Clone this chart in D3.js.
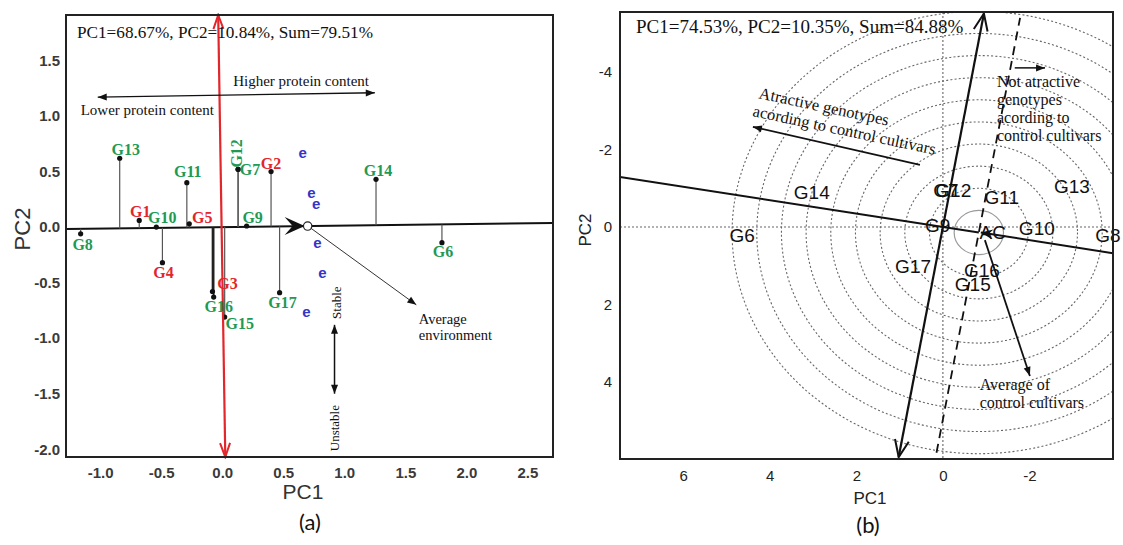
<!DOCTYPE html>
<html><head><meta charset="utf-8">
<script src="https://cdn.jsdelivr.net/npm/d3@7"></script>
<style>body{margin:0;background:#fff}</style>
</head><body>
<svg id="c" width="1123" height="545"></svg>
<script>
// ---------- Panel (a) data ----------
const genotypesA = ["G1","G2","G3","G4","G5","G6","G7","G8","G9","G10","G11","G12","G13","G14","G15","G16","G17"];
const pc1A = [-0.68, 0.40, -0.08, -0.49, -0.27, 1.80, 0.13, -1.16, 0.20, -0.54, -0.29, 0.13, -0.84, 1.26, 0.02, -0.07, 0.47];
const pc2A = [0.06, 0.50, -0.58, -0.32, 0.03, -0.14, 0.52, -0.06, 0.01, 0.00, 0.40, 0.52, 0.62, 0.43, -0.81, -0.63, -0.59];
const typeA = ["control","control","control","control","control","test","test","test","test","test","test","test","test","test","test","test","test"];
const envPc1A = [0.66, 0.73, 0.77, 0.78, 0.82, 0.69];
const envPc2A = [0.67, 0.31, 0.21, -0.14, -0.41, -0.76];
const meanEnvA = [0.70, 0.0095];
const xTicksA = [-1.0, -0.5, 0.0, 0.5, 1.0, 1.5, 2.0, 2.5];
const yTicksA = [-2.0, -1.5, -1.0, -0.5, 0.0, 0.5, 1.0, 1.5];
const headerA = "PC1=68.67%, PC2=10.84%, Sum=79.51%";

// ---------- Panel (b) data ----------
const genotypesB = ["G6","G14","G12","G7","G11","G13","G10","G8","G9","G17","G16","G15"];
const pc1B = [4.64, 3.03, -0.24, -0.07, -1.36, -2.98, -2.17, -3.81, 0.12, 0.69, -0.90, -0.69];
const pc2B = [0.21, -0.90, -0.93, -0.93, -0.75, -1.03, 0.03, 0.23, -0.03, 1.03, 1.11, 1.49];
const acB = [-0.83, 0.143];
const ringStepB = 0.57;
const ringCountB = 10;
const xTicksB = [6, 4, 2, 0, -2];
const yTicksB = [-4, -2, 0, 2, 4];
const headerB = "PC1=74.53%, PC2=10.35%, Sum=84.88%";

// ---------- layout (label offsets in px) ----------
const labelOffA = {
  G1:[1,-9], G2:[0,-8], G3:[15,-8], G4:[1,10], G5:[13,-6], G6:[1,9], G7:[12,0], G8:[2,11],
  G9:[6,-9], G10:[6,-10], G11:[1,-11], G12:[-2,-16], G13:[6,-9], G14:[2,-9], G15:[15,6], G16:[5,9], G17:[3,10]
};
const colorA = {control:"#e3262b", test:"#1f9a55"};

const svg = d3.select("#c");
const defs = svg.append("defs");
function marker(id, path, w, h, refX, refY, fill, stroke, sw){
  defs.append("marker").attr("id", id).attr("markerUnits","userSpaceOnUse")
    .attr("markerWidth", w+4).attr("markerHeight", h+4).attr("viewBox", `-2 -2 ${w+4} ${h+4}`)
    .attr("refX", refX).attr("refY", refY).attr("orient","auto-start-reverse")
    .append("path").attr("d", path).attr("fill", fill).attr("stroke", stroke).attr("stroke-width", sw||0);
}
marker("arrS", "M0,0 L9,3.5 L0,7 Z", 9, 7, 9, 3.5, "#111", "none");
marker("arrChevRed", "M0,0 L14,5 L0,10", 14, 10, 14, 5, "none", "#e3262b", 2);
marker("arrChevB", "M0,0 L17,7 L0,14", 17, 14, 17, 7, "none", "#111", 2);
marker("arrAC", "M0,0 L12,5 L0,10 L4,5 Z", 12, 10, 12, 5, "#111", "none");

// ================= Panel (a) =================
const xA = d3.scaleLinear().domain([-1.28, 2.71]).range([66, 553]);
const yA = d3.scaleLinear().domain([-2.07, 1.91]).range([457, 15]);
const gA = svg.append("g");

const axA_x = gA.append("g").attr("transform", `translate(0,${yA.range()[0]})`)
  .call(d3.axisBottom(xA).tickValues(xTicksA).tickSize(0).tickPadding(10).tickFormat(d => d.toFixed(1)));
const axA_y = gA.append("g").attr("transform", `translate(${xA.range()[0]},0)`)
  .call(d3.axisLeft(yA).tickValues(yTicksA).tickSize(0).tickPadding(6).tickFormat(d => d.toFixed(1)));
[axA_x, axA_y].forEach(a => {
  a.select(".domain").remove();
  a.selectAll("text").attr("font-family","Liberation Sans, Arial").attr("font-size", 15).attr("font-weight","bold").attr("fill","#3a3a3a");
});
gA.append("text").attr("x", 303).attr("y", 499).attr("text-anchor","middle")
  .attr("font-family","Liberation Sans, Arial").attr("font-size", 21).attr("fill","#333").text("PC1");
gA.append("text").attr("transform","translate(30,229) rotate(-90)").attr("text-anchor","middle")
  .attr("font-family","Liberation Sans, Arial").attr("font-size", 22).attr("fill","#333").text("PC2");
gA.append("text").attr("x", 310).attr("y", 530).attr("text-anchor","middle")
  .attr("font-family","Lato, Open Sans, sans-serif").attr("font-size", 22).attr("fill","#111").text("(a)");

// average environment axis
const slopeA = meanEnvA[1] / meanEnvA[0];
gA.append("line").attr("x1", xA(xA.domain()[0])).attr("y1", yA(slopeA * xA.domain()[0]))
  .attr("x2", xA(xA.domain()[1])).attr("y2", yA(slopeA * xA.domain()[1]))
  .attr("stroke","#111").attr("stroke-width", 2);

// projection lines
genotypesA.forEach((g, i) => {
  gA.append("line").attr("x1", xA(pc1A[i])).attr("y1", yA(pc2A[i]))
    .attr("x2", xA(pc1A[i])).attr("y2", yA(slopeA * pc1A[i]))
    .attr("stroke", (g==="G3"||g==="G16") ? "#222" : "#555").attr("stroke-width", (g==="G3"||g==="G16") ? 1.6 : 1.2);
});
// genotype points
gA.selectAll("circle.g").data(genotypesA).enter().append("circle")
  .attr("cx", (d,i) => xA(pc1A[i])).attr("cy", (d,i) => yA(pc2A[i])).attr("r", 2.6).attr("fill","#111");

// mean env arrowhead + circle
const mx = xA(meanEnvA[0]), my = yA(meanEnvA[1]);
gA.append("path").attr("d", `M${mx-3},${my} L${mx-23},${my-9} L${mx-15},${my} L${mx-23},${my+9} Z`).attr("fill","#111");
gA.append("circle").attr("cx", mx).attr("cy", my).attr("r", 4.2).attr("fill","#fff").attr("stroke","#222").attr("stroke-width",1.2);

// average environment pointer
gA.append("line").attr("x1", mx+3).attr("y1", my+2).attr("x2", xA(1.59)).attr("y2", yA(-0.70))
  .attr("stroke","#333").attr("stroke-width", 1).attr("marker-end","url(#arrS)");

// red vertical axis
gA.append("line").attr("x1", xA(-0.033)).attr("y1", yA(1.91)).attr("x2", xA(0.025)).attr("y2", yA(-2.07))
  .attr("stroke","#e3262b").attr("stroke-width", 2.2)
  .attr("marker-start","url(#arrChevRed)").attr("marker-end","url(#arrChevRed)");

// environment markers
gA.selectAll("text.e").data(envPc1A).enter().append("text")
  .attr("x", (d,i) => xA(d)).attr("y", (d,i) => yA(envPc2A[i])).attr("text-anchor","middle").attr("dominant-baseline","central")
  .attr("font-family","Liberation Sans, Arial").attr("font-weight","bold").attr("font-size", 15).attr("fill","#3434c8").text("e");

// genotype labels
genotypesA.forEach((g, i) => {
  const o = labelOffA[g];
  const t = gA.append("text").attr("text-anchor","middle").attr("dominant-baseline","central")
    .attr("font-family","Liberation Serif, Times New Roman").attr("font-weight","bold").attr("font-size", 16)
    .attr("fill", colorA[typeA[i]]).text(g);
  const px = xA(pc1A[i]) + o[0], py = yA(pc2A[i]) + o[1];
  if (g === "G12") t.attr("transform", `translate(${px},${py}) rotate(-90)`);
  else t.attr("x", px).attr("y", py);
});

// annotations
const serif = "Liberation Serif, Times New Roman";
gA.append("text").attr("x", xA(-1.19)).attr("y", yA(1.70)).attr("font-family", serif).attr("font-size", 17.2).attr("fill","#111").text(headerA);
gA.append("text").attr("x", xA(0.09)).attr("y", yA(1.27)).attr("font-family", serif).attr("font-size", 15).attr("fill","#111").text("Higher protein content");
gA.append("text").attr("x", xA(-1.16)).attr("y", yA(1.01)).attr("font-family", serif).attr("font-size", 15).attr("fill","#111").text("Lower protein content");
gA.append("line").attr("x1", xA(-1.02)).attr("y1", yA(1.17)).attr("x2", xA(1.25)).attr("y2", yA(1.21))
  .attr("stroke","#111").attr("stroke-width", 1.3).attr("marker-start","url(#arrS)").attr("marker-end","url(#arrS)");
gA.append("text").attr("x", xA(1.61)).attr("y", yA(-0.87)).attr("font-family", serif).attr("font-size", 14.5).attr("fill","#111").text("Average");
gA.append("text").attr("x", xA(1.61)).attr("y", yA(-1.02)).attr("font-family", serif).attr("font-size", 14.5).attr("fill","#111").text("environment");
gA.append("line").attr("x1", xA(0.92)).attr("y1", yA(-0.88)).attr("x2", xA(0.92)).attr("y2", yA(-1.50))
  .attr("stroke","#111").attr("stroke-width", 1.5).attr("marker-start","url(#arrS)").attr("marker-end","url(#arrS)");
gA.append("text").attr("transform", `translate(${xA(0.94)},${yA(-0.68)}) rotate(-90)`).attr("text-anchor","middle").attr("dominant-baseline","central")
  .attr("font-family", serif).attr("font-size", 13).attr("fill","#111").text("Stable");
gA.append("text").attr("transform", `translate(${xA(0.92)},${yA(-1.81)}) rotate(-90)`).attr("text-anchor","middle").attr("dominant-baseline","central")
  .attr("font-family", serif).attr("font-size", 13).attr("fill","#111").text("Unstable");

// frame
gA.append("rect").attr("x", 66).attr("y", 15).attr("width", 553-66).attr("height", 457-15)
  .attr("fill","none").attr("stroke","#222").attr("stroke-width", 2);

// ================= Panel (b) =================
const xB = d3.scaleLinear().domain([7.46, -3.93]).range([620, 1113]);
const yB = d3.scaleLinear().domain([-5.54, 5.98]).range([12, 459]);
const gB = svg.append("g");
defs.append("clipPath").attr("id","clipB").append("rect").attr("x",620).attr("y",12).attr("width",1113-620).attr("height",459-12);

const axB_x = gB.append("g").attr("transform", `translate(0,459)`)
  .call(d3.axisBottom(xB).tickValues(xTicksB).tickSize(0).tickPadding(11).tickFormat(d => String(d)));
const axB_y = gB.append("g").attr("transform", `translate(620,0)`)
  .call(d3.axisLeft(yB).tickValues(yTicksB).tickSize(0).tickPadding(8).tickFormat(d => String(d)));
[axB_x, axB_y].forEach(a => {
  a.select(".domain").remove();
  a.selectAll("text").attr("font-family","Liberation Sans, Arial").attr("font-size", 15).attr("fill","#222");
});
gB.append("text").attr("x", 870).attr("y", 504).attr("text-anchor","middle")
  .attr("font-family","Liberation Sans, Arial").attr("font-size", 17).attr("fill","#222").text("PC1");
gB.append("text").attr("transform","translate(591,230) rotate(-90)").attr("text-anchor","middle")
  .attr("font-family","Liberation Sans, Arial").attr("font-size", 17).attr("fill","#222").text("PC2");
gB.append("text").attr("x", 868).attr("y", 533).attr("text-anchor","middle")
  .attr("font-family","Lato, Open Sans, sans-serif").attr("font-size", 22).attr("fill","#111").text("(b)");

const inner = gB.append("g").attr("clip-path","url(#clipB)");
// rings
const cx = xB(acB[0]), cy = yB(acB[1]);
d3.range(1, ringCountB + 1).forEach(k => {
  const r = k * ringStepB;
  inner.append("ellipse").attr("cx", cx).attr("cy", cy)
    .attr("rx", Math.abs(xB(r) - xB(0))).attr("ry", Math.abs(yB(r) - yB(0)))
    .attr("fill","none").attr("stroke", k === 1 ? "#9a9a9a" : "#666")
    .attr("stroke-width", k === 1 ? 1.2 : 1.1).attr("stroke-dasharray", k === 1 ? null : "2,2.2");
});
// zero reference lines
inner.append("line").attr("x1", 620).attr("x2", 1113).attr("y1", yB(0)).attr("y2", yB(0))
  .attr("stroke","#666").attr("stroke-width",1.1).attr("stroke-dasharray","2,2");
inner.append("line").attr("y1", 12).attr("y2", 459).attr("x1", xB(0)).attr("x2", xB(0))
  .attr("stroke","#666").attr("stroke-width",1.1).attr("stroke-dasharray","2,2");

// average environment (control) axis
const slopeB = acB[1] / acB[0];
const x0B = xB.domain()[0], x1B = xB.domain()[1];
inner.append("line").attr("x1", xB(x0B)).attr("y1", yB(slopeB*x0B)).attr("x2", xB(acB[0])).attr("y2", yB(acB[1]))
  .attr("stroke","#111").attr("stroke-width", 2);
inner.append("line").attr("x1", xB(x1B)).attr("y1", yB(slopeB*x1B)).attr("x2", xB(acB[0])+2).attr("y2", yB(acB[1]))
  .attr("stroke","#111").attr("stroke-width", 2).attr("marker-end","url(#arrAC)");

// perpendicular axis through origin
const perp = -slopeB;
const yTopB = -5.50, yBotB = 5.93;
gB.append("line").attr("x1", xB(perp*yBotB)).attr("y1", yB(yBotB)).attr("x2", xB(perp*yTopB)).attr("y2", yB(yTopB))
  .attr("stroke","#111").attr("stroke-width", 2.2).attr("marker-start","url(#arrChevB)").attr("marker-end","url(#arrChevB)");
// dashed parallel through AC
inner.append("line").attr("x1", xB(acB[0] + perp*(5.82-acB[1]))).attr("y1", yB(5.82))
  .attr("x2", xB(acB[0] + perp*(-5.39-acB[1]))).attr("y2", yB(-5.39))
  .attr("stroke","#111").attr("stroke-width", 1.8).attr("stroke-dasharray","9,6");

// genotype labels
genotypesB.forEach((g, i) => {
  gB.append("text").attr("x", xB(pc1B[i])).attr("y", yB(pc2B[i])).attr("text-anchor","middle").attr("dominant-baseline","central")
    .attr("font-family","Liberation Sans, Arial").attr("font-size", 19).attr("fill","#111").text(g);
});
gB.append("text").attr("x", xB(acB[0]) + 14).attr("y", yB(acB[1])).attr("text-anchor","middle").attr("dominant-baseline","central")
  .attr("font-family","Liberation Sans, Arial").attr("font-size", 19).attr("fill","#111").text("AC");

// annotations
gB.append("text").attr("x", xB(7.09)).attr("y", yB(-5.0)).attr("font-family", serif).attr("font-size", 19).attr("fill","#111").text(headerB);
const rot = 12;
gB.append("text").attr("transform", `translate(${xB(4.27)},${yB(-3.32)}) rotate(${rot})`).attr("font-family", serif).attr("font-size", 16.5).attr("fill","#111").text("Atractive genotypes");
gB.append("text").attr("transform", `translate(${xB(4.41)},${yB(-2.86)}) rotate(${rot})`).attr("font-family", serif).attr("font-size", 16.5).attr("fill","#111").text("acording to control cultivars");
gB.append("line").attr("x1", xB(0.53)).attr("y1", yB(-1.60)).attr("x2", xB(4.39)).attr("y2", yB(-2.58))
  .attr("stroke","#111").attr("stroke-width", 1.8).attr("marker-end","url(#arrS)");
["Not atractive","genotypes","acording to","control cultivars"].forEach((s, i) => {
  gB.append("text").attr("x", xB(-1.25)).attr("y", yB([-3.61,-3.14,-2.68,-2.22][i]))
    .attr("font-family", serif).attr("font-size", 16).attr("fill","#111").text(s);
});
gB.append("line").attr("x1", xB(-1.66)).attr("y1", yB(-4.10)).attr("x2", xB(-2.36)).attr("y2", yB(-4.10))
  .attr("stroke","#111").attr("stroke-width", 1.5).attr("marker-end","url(#arrS)");
gB.append("line").attr("x1", xB(-0.97)).attr("y1", yB(0.34)).attr("x2", xB(-2.01)).attr("y2", yB(3.84))
  .attr("stroke","#111").attr("stroke-width", 1.8).attr("marker-end","url(#arrS)");
gB.append("text").attr("x", xB(-0.85)).attr("y", yB(4.20)).attr("font-family", serif).attr("font-size", 16).attr("fill","#111").text("Average of");
gB.append("text").attr("x", xB(-0.85)).attr("y", yB(4.66)).attr("font-family", serif).attr("font-size", 16).attr("fill","#111").text("control cultivars");

gB.append("rect").attr("x", 620).attr("y", 12).attr("width", 1113-620).attr("height", 459-12)
  .attr("fill","none").attr("stroke","#222").attr("stroke-width", 2);
</script>
</body></html>
